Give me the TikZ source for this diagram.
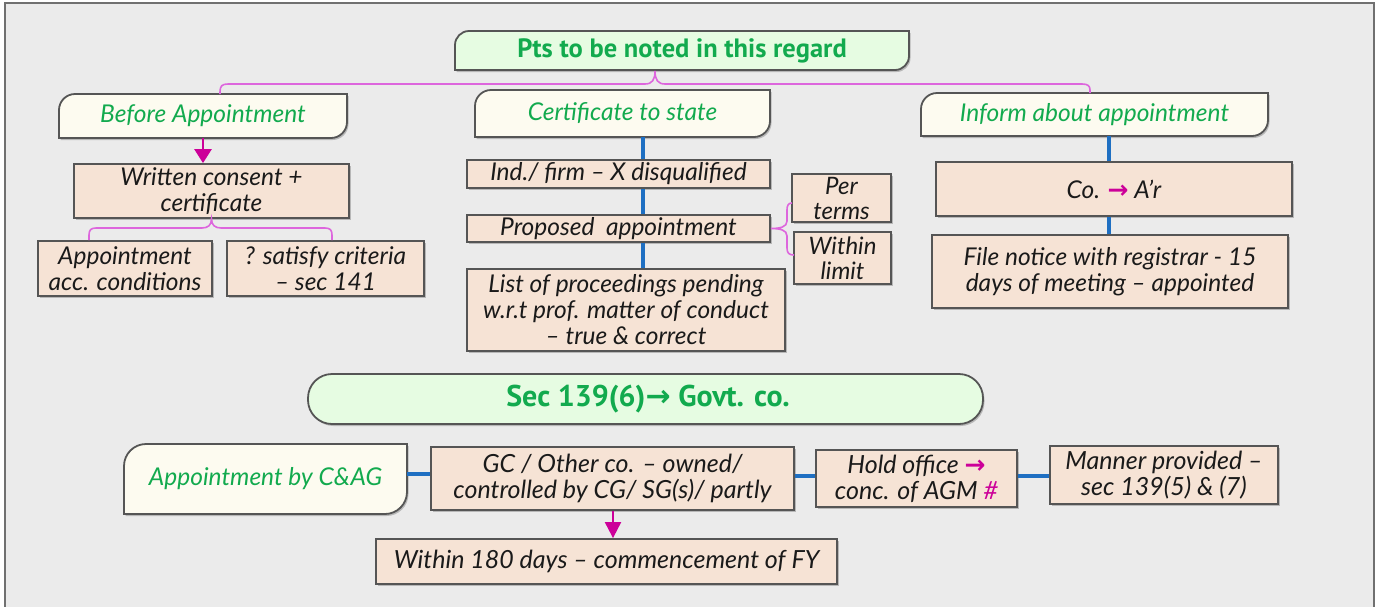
\documentclass[tikz,border=0pt]{standalone}
\usepackage{fontspec}
\usetikzlibrary{arrows.meta,shadows,calc}
\newfontfamily\hand{Lato}
\newfontfamily\headf{PT Sans}
\newfontfamily\arr{DejaVu Sans}
\definecolor{bgc}{HTML}{EBEBEB}
\definecolor{framec}{HTML}{707070}
\definecolor{bordc}{HTML}{555555}
\definecolor{peachc}{HTML}{F6E3D5}
\definecolor{creamc}{HTML}{FDFBF0}
\definecolor{greenfill}{HTML}{E6FCE2}
\definecolor{greent}{HTML}{12AA4E}
\definecolor{pinkc}{HTML}{DD66DD}
\definecolor{bluec}{HTML}{1E6FC2}
\definecolor{magc}{HTML}{CC0099}
\definecolor{txtc}{HTML}{1A1A1A}
\newcommand\marr{{\color{magc}\arr\bfseries\fontsize{25}{24}\selectfont →}}
\tikzset{
  boxline/.style={draw=bordc, line width=1.8pt},
  shadowed/.style={drop shadow={shadow xshift=1.5pt,shadow yshift=-2pt,opacity=0.22,fill=black}},
  peach/.style={boxline, fill=peachc, shadowed, align=center, text=txtc, inner sep=0pt,
    font=\hand\itshape\fontsize{24.5}{26}\selectfont},
  peachlow/.style={peach, font=\hand\itshape\fontsize{25}{26}\selectfont},
  headtext/.style={align=center, inner sep=0pt, text=greent},
  subhead/.style={headtext, font=\hand\itshape\fontsize{24.5}{28}\selectfont},
  pinkline/.style={draw=pinkc, line width=1.6pt},
  blueline/.style={draw=bluec, line width=3.5pt},
  magarrow/.style={draw=magc, line width=2.6pt, -{Triangle[length=14pt,width=17pt]}},
  magarrowthin/.style={draw=magc, line width=2pt, -{Triangle[length=16pt,width=16pt]}},
}
% shape with rounded top-left and bottom-right corners: x1,y1,x2,y2,r,fill
\newcommand\leafshape[6]{%
  \draw[boxline,fill=#6,shadowed] (#1,#2+#5) .. controls (#1,#2+0.45*#5) and (#1+0.45*#5,#2) .. (#1+#5,#2)
    -- (#3,#2) -- (#3,#4-#5) .. controls (#3,#4-0.45*#5) and (#3-0.45*#5,#4) .. (#3-#5,#4)
    -- (#1,#4) -- cycle;}
\begin{document}
\begin{tikzpicture}[x=1pt,y=-1pt]
\useasboundingbox (0,0) rectangle (1381,606);
\fill[white] (0,0) rectangle (1381,606);
\draw[fill=bgc, draw=framec, line width=1.5pt] (5,3) rectangle (1374,640);

% ---------- top section ----------
\leafshape{455}{31}{909}{70}{14}{greenfill}
\node[headtext, minimum width=454pt, minimum height=39pt, font=\headf\bfseries\fontsize{26.5}{30}\selectfont] (title) at (682,50.5) {Pts to be noted in this regard};

\leafshape{59}{94}{347}{138}{16}{creamc}
\node[subhead, minimum width=288pt, minimum height=44pt] (before) at (203,116) {Before Appointment};

\leafshape{475}{90}{770}{137}{16}{creamc}
\node[subhead, minimum width=295pt, minimum height=47pt] (cert) at (622.5,113.5) {Certificate to state};

\leafshape{921}{93}{1268}{136}{16}{creamc}
\node[subhead, minimum width=347pt, minimum height=43pt] (inform) at (1094.5,114.5) {Inform about appointment};

\node[peach, minimum width=275pt, minimum height=54pt] (written) at (211.5,191) {Written consent +\\certificate};
\node[peach, minimum width=174pt, minimum height=55pt] (appcond) at (125,268.5) {Appointment\\acc. conditions};
\node[peach, minimum width=197pt, minimum height=55pt] (satisfy) at (325.5,268.5) {? satisfy criteria\\– sec 141};

\node[peach, minimum width=303pt, minimum height=28pt] (indfirm) at (618.5,174) {Ind./ firm – X disqualified};
\node[peach, minimum width=303pt, minimum height=27pt] (proposed) at (618.5,228.5) {Proposed~~appointment};
\node[peach, minimum width=318pt, minimum height=82pt] (listp) at (626,310) {List of proceedings pending\\w.r.t prof. matter of conduct\\– true \& correct};
\node[peach, minimum width=99pt, minimum height=48pt, font=\hand\itshape\fontsize{24}{25}\selectfont] (perterms) at (841.5,198) {Per\\terms};
\node[peach, minimum width=97pt, minimum height=52pt, font=\hand\itshape\fontsize{24}{25}\selectfont] (within) at (842.5,258) {Within\\limit};

\node[peach, minimum width=356pt, minimum height=54pt] (coar) at (1114,189) {Co. \marr{} A’r};
\node[peach, minimum width=356pt, minimum height=73pt] (filen) at (1110,271.5) {File notice with registrar - 15\\days of meeting – appointed};

% connectors top
\coordinate (bfa) at (220,94);
\coordinate (ifa) at (1090,93);
\coordinate (ttip) at (655,71);
\draw[pinkline] (bfa) -- (220,92) .. controls (220,86) and (222,84) .. (228,84) -- (645,84)
  .. controls (652,84) and (655,80) .. (ttip) .. controls (655,80) and (658,84) .. (665,84)
  -- (1082,84) .. controls (1088,84) and (1090,86) .. (1090,90) -- (ifa);

\draw[magarrow] (before.south) -- (written.north -| before.south);

\coordinate (b1) at (89,240);
\coordinate (b2) at (332,240);
\draw[pinkline] (b1) -- (89,235) .. controls (89,230) and (91,228) .. (96,228) -- (202,228)
  .. controls (208,228) and (211.5,225) .. (written.south) .. controls (211.5,225) and (215,228) .. (221,228)
  -- (325,228) .. controls (330,228) and (332,230) .. (332,235) -- (b2);

\coordinate (xb) at (643,0);
\draw[blueline] (cert.south -| xb) -- (indfirm.north -| xb);
\draw[blueline] (indfirm.south -| xb) -- (proposed.north -| xb);
\draw[blueline] (proposed.south -| xb) -- (listp.north -| xb);

\coordinate (pt1) at (792,203);
\coordinate (ptip) at (771,228.5);
\coordinate (pt2) at (794,255);
\draw[pinkline] (pt1) .. controls (788,203) and (787,206) .. (787,210) -- (787,221)
  .. controls (787,227) and (780,228.5) .. (ptip) .. controls (780,228.5) and (787,230) .. (787,236)
  -- (787,248) .. controls (787,253) and (789,255) .. (pt2);

\coordinate (xi) at (1109,0);
\draw[blueline] (inform.south -| xi) -- (coar.north -| xi);
\draw[blueline] (coar.south -| xi) -- (filen.north -| xi);

% ---------- bottom section ----------
\draw[boxline, fill=greenfill, shadowed, rounded corners=24pt] (308,374) rectangle (983,424);
\node[headtext, minimum width=675pt, minimum height=50pt, font=\headf\bfseries\fontsize{30}{32}\selectfont] (sec) at (645.5,399) {\hspace*{5pt}Sec 139(6){\arr\bfseries\fontsize{30}{26}\selectfont →} Govt. co.};

\leafshape{124}{444}{407}{514}{22}{creamc}
\node[subhead, minimum width=283pt, minimum height=70pt] (cag) at (265.5,479) {Appointment by C\&AG};

\node[peachlow, minimum width=363pt, minimum height=63pt] (gc) at (612.5,478.5) {GC / Other co. – owned/\\controlled by CG/ SG(s)/ partly};
\node[peachlow, minimum width=201pt, minimum height=57pt] (hold) at (916.5,478.5) {Hold office \marr\\conc. of AGM {\color{magc}\#}};
\node[peachlow, minimum width=228pt, minimum height=58pt] (manner) at (1164,475) {Manner provided –\\sec 139(5) \& (7)};
\node[peachlow, minimum width=461pt, minimum height=45pt] (within180) at (606.5,561.5) {Within 180 days – commencement of FY};

\coordinate (y1) at (0,474);
\coordinate (y2) at (0,476);
\coordinate (y3) at (0,476);
\draw[blueline] (cag.east |- y1) -- (gc.west |- y1);
\draw[blueline] (gc.east |- y2) -- (hold.west |- y2);
\draw[blueline] (hold.east |- y3) -- (manner.west |- y3);
\draw[magarrowthin] (gc.south -| 613,0) -- (within180.north -| 613,0);
\end{tikzpicture}
\end{document}
